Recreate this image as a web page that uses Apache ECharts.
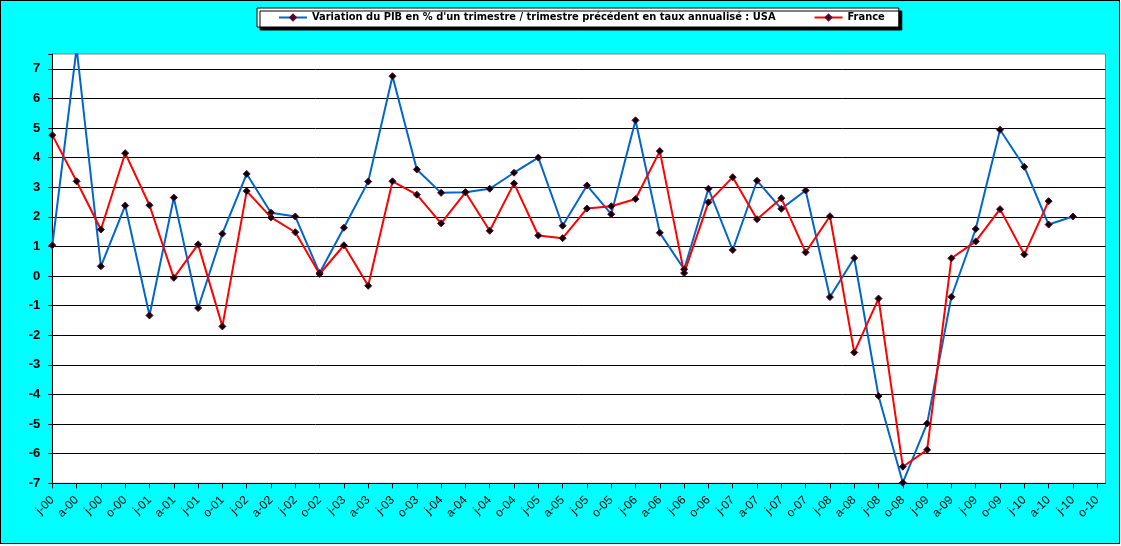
<!DOCTYPE html>
<html>
<head>
<meta charset="utf-8">
<script src="https://cdn.jsdelivr.net/npm/echarts@6/dist/echarts.min.js"></script>
<style>
    body { margin: 0; background: #fff; }
    #pib { width: 1118px; height: 542px; border: 1px solid #000; background: #00ffff; }
</style>
</head>
<body>
<div id="pib"></div>
<script>
//trimestres
var trimestres = ['j-00', 'a-00', 'j-00', 'o-00', 'j-01', 'a-01', 'j-01', 'o-01', 'j-02', 'a-02', 'j-02', 'o-02',
    'j-03', 'a-03', 'j-03', 'o-03', 'j-04', 'a-04', 'j-04', 'o-04', 'j-05', 'a-05', 'j-05', 'o-05',
    'j-06', 'a-06', 'j-06', 'o-06', 'j-07', 'a-07', 'j-07', 'o-07', 'j-08', 'a-08', 'j-08', 'o-08',
    'j-09', 'a-09', 'j-09', 'o-09', 'j-10', 'a-10', 'j-10', 'o-10'];
//USA
var usa = [1.04, 7.7, 0.33, 2.38, -1.33, 2.65, -1.08, 1.43, 3.45, 2.14, 2.01, 0.1,
    1.63, 3.19, 6.75, 3.6, 2.81, 2.83, 2.95, 3.49, 4.0, 1.70, 3.06, 2.09,
    5.26, 1.46, 0.23, 2.95, 0.88, 3.22, 2.27, 2.89, -0.71, 0.61, -4.05, -6.98,
    -4.98, -0.70, 1.59, 4.94, 3.69, 1.74, 2.01];
//France
var france = [4.76, 3.2, 1.57, 4.15, 2.39, -0.06, 1.07, -1.70, 2.87, 1.98, 1.48, 0.07,
    1.04, -0.33, 3.2, 2.75, 1.78, 2.83, 1.53, 3.13, 1.37, 1.28, 2.28, 2.36,
    2.6, 4.22, 0.10, 2.49, 3.34, 1.92, 2.63, 0.80, 2.02, -2.58, -0.76, -6.44,
    -5.87, 0.60, 1.17, 2.26, 0.73, 2.53];
var nomUsa = 'Variation du PIB en % d\'un trimestre / trimestre précédent en taux annualisé : USA';
var nomFrance = 'France';

var positions = trimestres.map(function (t, i) { return i; });
function points(arr) {
    return arr.map(function (v, i) { return [i, v]; });
}

var chartDom = document.getElementById('pib');
var myChart = echarts.init(chartDom);
var option = {
    animation: false,
    textStyle: { fontFamily: 'Liberation Sans, Arial, sans-serif' },
    legend: {
        left: 256,
        top: 7,
        padding: [4, 14, 4, 21],
        itemWidth: 28,
        itemHeight: 7,
        itemGap: 38,
        backgroundColor: '#fff',
        borderColor: '#000',
        borderWidth: 1,
        shadowColor: '#000',
        shadowOffsetX: 3,
        shadowOffsetY: 3,
        shadowBlur: 0,
        textStyle: {
            color: '#000',
            fontWeight: 'bold',
            fontSize: 11,
            fontFamily: 'Liberation Sans Narrow, DejaVu Sans Condensed, Arial, sans-serif'
        },
        data: [nomUsa, nomFrance]
    },
    grid: {
        left: 51.3,
        top: 53,
        right: 13.5,
        bottom: 59.7,
        show: true,
        backgroundColor: '#fff',
        borderColor: '#808080',
        borderWidth: 1
    },
    xAxis: {
        type: 'value',
        min: 0,
        max: 43.34,
        splitLine: { show: false },
        axisLine: { onZero: false, lineStyle: { color: '#000', width: 1 } },
        axisTick: {
            customValues: positions,
            length: 5,
            lineStyle: { color: '#000' }
        },
        axisLabel: {
            customValues: positions,
            rotate: 45,
            margin: 15,
            fontSize: 12,
            color: '#000',
            formatter: function (v) { return trimestres[Math.round(v)]; }
        }
    },
    yAxis: {
        type: 'value',
        min: -7,
        max: 7.5,
        interval: 1,
        axisLine: { show: true, lineStyle: { color: '#000', width: 1 } },
        axisTick: { show: true, length: 4, lineStyle: { color: '#000' } },
        splitLine: {
            showMinLine: false,
            showMaxLine: false,
            lineStyle: { color: '#000', width: 1 }
        },
        axisLabel: {
            margin: 12,
            fontSize: 13,
            fontWeight: 'bold',
            color: '#000',
            formatter: function (v) { return Number.isInteger(v) ? v : ''; }
        }
    },
    series: [{
        name: nomUsa,
        type: 'line',
        data: points(usa),
        symbol: 'diamond',
        symbolSize: 7,
        lineStyle: { color: '#0066cc', width: 2 },
        itemStyle: { color: '#000', borderColor: '#660033', borderWidth: 1 }
    }, {
        name: nomFrance,
        type: 'line',
        data: points(france),
        symbol: 'diamond',
        symbolSize: 7,
        lineStyle: { color: '#ff0000', width: 2 },
        itemStyle: { color: '#000', borderColor: '#660033', borderWidth: 1 }
    }]
};
option && myChart.setOption(option);
</script>
</body>
</html>
